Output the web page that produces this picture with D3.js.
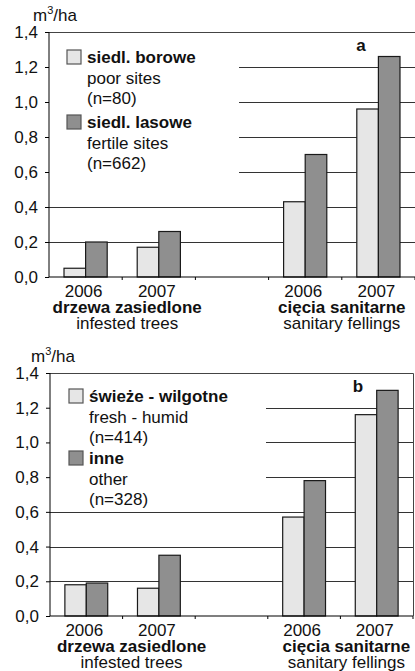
<!DOCTYPE html>
<html>
<head>
<meta charset="utf-8">
<script src="https://cdn.jsdelivr.net/npm/d3@7"></script>
<style>
  body { margin: 0; background: #fff; }
  svg { display: block; font-family: "Liberation Sans", Arial, sans-serif; }
</style>
</head>
<body>
<div id="chart"></div>
<script>
// values (m3/ha)
const categories = ["inf2006", "inf2007", "gap", "san2006", "san2007"];
const yearLabels = ["2006", "2007", "", "2006", "2007"];
const groupPl = ["drzewa zasiedlone", "cięcia sanitarne"];
const groupEn = ["infested trees", "sanitary fellings"];
const yTicks = [0, 0.2, 0.4, 0.6, 0.8, 1.0, 1.2, 1.4];

const lightA = [0.05, 0.17, null, 0.43, 0.96];
const darkA = [0.20, 0.26, null, 0.70, 1.26];
const legendA = [
  ["siedl. borowe", "poor sites", "(n=80)"],
  ["siedl. lasowe", "fertile sites", "(n=662)"]
];

const lightB = [0.18, 0.16, null, 0.57, 1.16];
const darkB = [0.19, 0.35, null, 0.78, 1.30];
const legendB = [
  ["świeże - wilgotne", "fresh - humid", "(n=414)"],
  ["inne", "other", "(n=328)"]
];

const LIGHT = "#e6e6e6";
const DARK = "#8f8f8f";
const INK = "#1a1a1a";
const FS = 17;

const svg = d3.select("#chart").append("svg")
  .attr("width", 415)
  .attr("height", 671);

function drawPanel(p) {
  const g = svg.append("g");

  const x = d3.scaleBand()
    .domain(categories)
    .range([p.left, p.right])
    .paddingInner(0.41)
    .paddingOuter(0.205);
  const xs = d3.scaleBand().domain(["light", "dark"]).range([0, x.bandwidth()]);
  const y = d3.scaleLinear().domain([0, 1.4]).range([p.bottom, p.top]);

  // grid lines (the upper ones stop short of the legend)
  g.selectAll("line.grid")
    .data(yTicks.filter(t => t > 0 && t < 1.4))
    .join("line")
    .attr("x1", t => t >= p.gridCut ? p.gridStart : p.left)
    .attr("x2", p.right)
    .attr("y1", t => Math.round(y(t)) + 0.5)
    .attr("y2", t => Math.round(y(t)) + 0.5)
    .attr("stroke", "#333")
    .attr("stroke-width", 1);

  // frame top + right
  g.append("path")
    .attr("d", `M${p.left},${Math.round(y(1.4)) + 0.5}H${p.right + 0.5}V${p.bottom}`)
    .attr("fill", "none")
    .attr("stroke", "#444")
    .attr("stroke-width", 1);

  // bars
  const rows = categories.map((c, i) => ({ c, light: p.light[i], dark: p.dark[i] }))
    .filter(d => d.light != null);
  const bars = g.selectAll("g.cat").data(rows).join("g")
    .attr("transform", d => `translate(${x(d.c)},0)`);
  bars.selectAll("rect")
    .data(d => [["light", d.light], ["dark", d.dark]])
    .join("rect")
    .attr("x", d => xs(d[0]))
    .attr("width", xs.bandwidth())
    .attr("y", d => y(d[1]))
    .attr("height", d => y(0) - y(d[1]))
    .attr("fill", d => d[0] === "light" ? LIGHT : DARK)
    .attr("stroke", INK)
    .attr("stroke-width", 1.2);

  // y axis
  const fmt = d3.format(".1f");
  const yAxis = g.append("g")
    .attr("transform", `translate(${p.left},0)`)
    .call(d3.axisLeft(y).tickValues(yTicks).tickSize(4).tickPadding(7)
      .tickFormat(d => fmt(d).replace(".", ",")));
  yAxis.select(".domain").attr("d", `M0,${y(1.4)}V${y(0)}`).attr("stroke", "#000");
  yAxis.selectAll("text").attr("font-size", FS).attr("fill", "#111").attr("font-family", null);

  // x axis line with small ticks at category boundaries
  g.append("line")
    .attr("x1", p.left).attr("x2", p.right)
    .attr("y1", y(0)).attr("y2", y(0))
    .attr("stroke", "#000").attr("stroke-width", 1.2);
  const step = x.step();
  g.selectAll("line.xt")
    .data(d3.range(1, categories.length + 1))
    .join("line")
    .attr("x1", i => p.left + step * i).attr("x2", i => p.left + step * i)
    .attr("y1", y(0)).attr("y2", y(0) + 3)
    .attr("stroke", "#000");

  // year labels
  g.selectAll("text.year")
    .data(categories)
    .join("text")
    .attr("x", c => x(c) + x.bandwidth() / 2 - 2)
    .attr("y", p.bottom + 20)
    .attr("text-anchor", "middle")
    .attr("font-size", FS)
    .attr("fill", "#111")
    .text((c, i) => yearLabels[i]);

  // group labels
  [0, 1].forEach(k => {
    const cx = p.left + step * (k === 0 ? 1 : 4) + p.labelShift[k];
    g.append("text")
      .attr("x", cx).attr("y", p.bottom + 36)
      .attr("text-anchor", "middle")
      .attr("font-size", FS).attr("font-weight", "bold").attr("fill", "#111")
      .text(groupPl[k]);
    g.append("text")
      .attr("x", cx).attr("y", p.bottom + 52)
      .attr("text-anchor", "middle")
      .attr("font-size", FS).attr("fill", "#111")
      .text(groupEn[k]);
  });

  // unit label
  const unit = g.append("text")
    .attr("x", p.unitX).attr("y", p.top - 11)
    .attr("font-size", FS).attr("fill", "#111");
  unit.append("tspan").text("m");
  unit.append("tspan").attr("font-size", 11).attr("dy", -7).text("3");
  unit.append("tspan").attr("dy", 7).text("/ha");

  // panel letter
  g.append("text")
    .attr("x", p.letterX).attr("y", p.top + 19)
    .attr("text-anchor", "middle")
    .attr("font-size", FS).attr("font-weight", "bold").attr("fill", "#111")
    .text(p.letter);

  // legend
  p.legend.forEach((lines, k) => {
    const top = p.legendY[k];
    g.append("rect")
      .attr("x", p.swatchX).attr("y", top - 13)
      .attr("width", 14).attr("height", 14)
      .attr("fill", k === 0 ? LIGHT : DARK)
      .attr("stroke", "#555").attr("stroke-width", 1.2);
    lines.forEach((t, j) => {
      g.append("text")
        .attr("x", p.swatchX + 20)
        .attr("y", top + j * 20.5)
        .attr("font-size", FS)
        .attr("font-weight", j === 0 ? "bold" : "normal")
        .attr("fill", "#111")
        .text(t);
    });
  });
}

drawPanel({
  left: 49, right: 415, top: 32, bottom: 277,
  light: lightA, dark: darkA, legend: legendA,
  gridCut: 0.6, gridStart: 239,
  legendY: [63, 128], swatchX: 67,
  unitX: 33, letter: "a", letterX: 361,
  labelShift: [5, 0]
});

drawPanel({
  left: 50, right: 413, top: 373, bottom: 616,
  light: lightB, dark: darkB, legend: legendB,
  gridCut: 0.8, gridStart: 266,
  legendY: [402, 464], swatchX: 69,
  unitX: 31, letter: "b", letterX: 358,
  labelShift: [9, 6]
});
</script>
</body>
</html>
